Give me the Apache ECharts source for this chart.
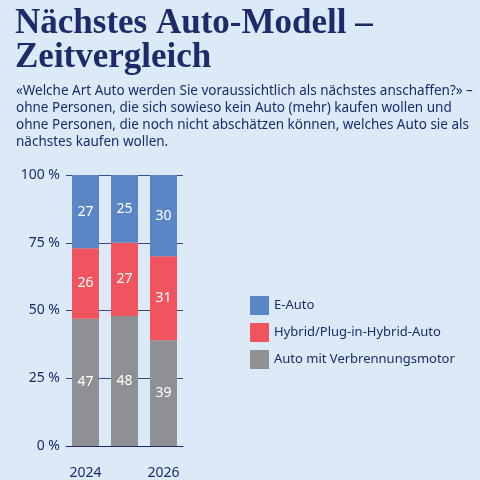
<!DOCTYPE html>
<html><head><meta charset="utf-8">
<script src="https://cdn.jsdelivr.net/npm/echarts@6/dist/echarts.min.js"></script>
<style>html,body{margin:0;background:#dce9f6}#c{width:480px;height:480px}</style>
</head><body><div id="c"></div>
<script>
const years = ['2024', '2025', '2026'];
const eAuto = [27, 25, 30];
const hybrid = [26, 27, 31];
const verbrenner = [47, 48, 39];
const yTicks = ['0 %', '25 %', '50 %', '75 %', '100 %'];

const navy = '#1f2a6b';
const chart = echarts.init(document.getElementById('c'));
const lbl = { show: true, color: '#fff', fontFamily: 'Noto Sans', fontSize: 14 };
function bar(name, data, color) {
    return { name: name, type: 'bar', stack: 't', data: data, barWidth: 27,
        itemStyle: { color: color }, label: lbl };
}
chart.setOption({
    backgroundColor: '#dce9f6',
    title: [{
        text: 'Nächstes Auto-Modell –\nZeitvergleich', left: 10, top: 2,
        textStyle: { fontFamily: 'Liberation Serif', fontWeight: 'bold', fontSize: 35, color: navy, lineHeight: 34 }
    }, {
        text: '«Welche Art Auto werden Sie voraussichtlich als nächstes anschaffen?» –\nohne Personen, die sich sowieso kein Auto (mehr) kaufen wollen und\nohne Personen, die noch nicht abschätzen können, welches Auto sie als\nnächstes kaufen wollen.',
        left: 11, top: 78,
        textStyle: { fontFamily: 'Noto Sans', fontWeight: 'normal', fontSize: 13.5, color: navy, lineHeight: 17 }
    }],
    legend: {
        orient: 'vertical', left: 245, top: 291, itemWidth: 19, itemHeight: 19, itemGap: 8,
        icon: 'rect', data: ['E-Auto', 'Hybrid/Plug-in-Hybrid-Auto', 'Auto mit Verbrennungsmotor'],
        textStyle: { fontFamily: 'Noto Sans', fontSize: 13, color: navy }
    },
    grid: { left: 66, right: 297, top: 175, bottom: 28 },
    xAxis: {
        type: 'category', data: years,
        axisLine: { lineStyle: { color: navy } },
        axisTick: { alignWithLabel: true, length: 9, lineStyle: { color: navy } },
        axisLabel: { color: navy, fontFamily: 'Noto Sans', fontSize: 14, margin: 20 }
    },
    yAxis: {
        type: 'value', min: 0, max: 100, interval: 25,
        axisLabel: { color: navy, fontFamily: 'Noto Sans', fontSize: 14, margin: 6,
            formatter: v => yTicks[v / 25] },
        splitLine: { lineStyle: { color: '#3a4a8a', width: 1.2 } },
        axisLine: { show: false }, axisTick: { show: false }
    },
    series: [
        bar('Auto mit Verbrennungsmotor', verbrenner, '#8e9093'),
        bar('Hybrid/Plug-in-Hybrid-Auto', hybrid, '#f0555f'),
        bar('E-Auto', eAuto, '#5b86c5')
    ]
});
</script></body></html>
